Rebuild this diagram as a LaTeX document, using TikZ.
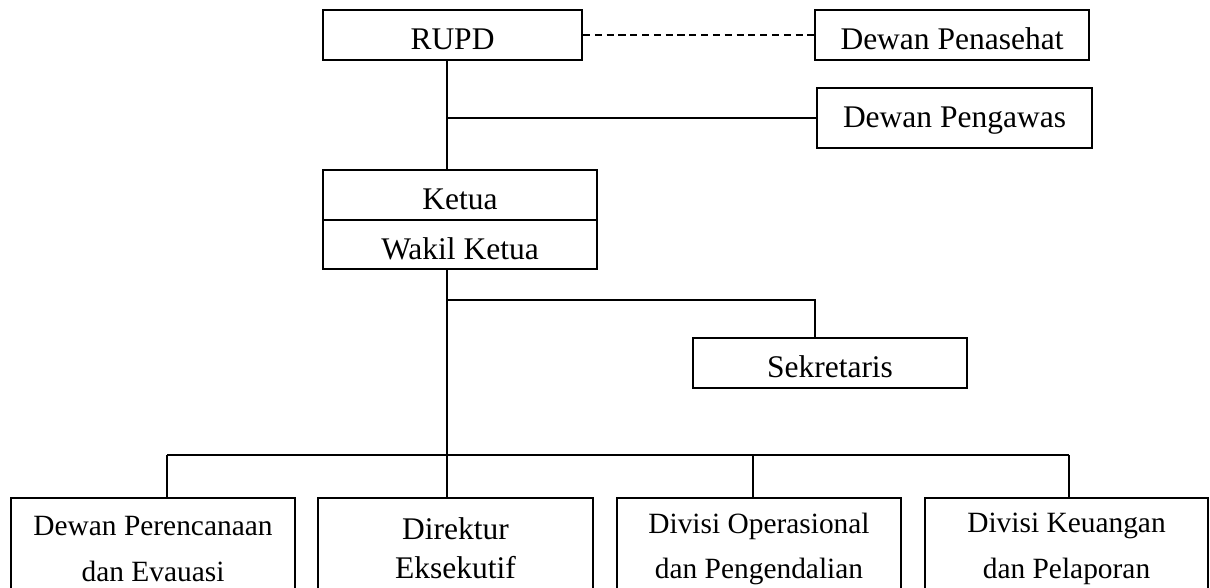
\documentclass[tikz,border=0pt]{standalone}
\usepackage{fontspec}
\setmainfont{Liberation Serif}
\usetikzlibrary{positioning}

\begin{document}
\begin{tikzpicture}[x=0.381pt, y=-0.381pt,
  box/.style={draw, line width=0.75pt, rectangle, inner sep=0pt, align=center, font=\fontsize{12}{18.3}\selectfont},
  onerow/.style={text height=11.4pt, text depth=0pt},
  lowrow/.style={font=\fontsize{11.2}{17.4}\selectfont},
  boxsize/.style 2 args={minimum width=#1*0.381pt, minimum height=#2*0.381pt},
  link/.style={line width=0.75pt}]
\clip (0,0) rectangle (1210,587);

% Top level
\node[box, onerow, boxsize={259}{50}] (rupd) at (452.5,35) {RUPD};
\node[box, onerow, boxsize={274}{50}] (penasehat) at (952,35) {Dewan Penasehat};
\node[box, text height=7.6pt, text depth=0pt, boxsize={275}{60}] (pengawas) at (954.5,118) {Dewan Pengawas};

% Ketua block
\node[box, onerow, boxsize={274}{50}] (ketua) at (460,195) {Ketua};
\node[box, onerow, boxsize={274}{49}] (wakil) at (460,244.5) {Wakil Ketua};
\node[box, onerow, boxsize={274}{50}] (sekretaris) at (830,363) {Sekretaris};

% Bottom row (cut off at the page edge)
\node[box, lowrow, boxsize={284}{102}] (perencanaan) at (153,549) {Dewan Perencanaan\\dan Evauasi};
\node[box, font=\fontsize{12}{15}\selectfont, boxsize={275}{100}] (direktur) at (455.5,548) {Direktur\\Eksekutif};
\node[box, lowrow, boxsize={284}{102}] (operasional) at (759,549) {Divisi Operasional\\dan Pengendalian};
\node[box, lowrow, boxsize={283}{102}] (keuangan) at (1066.5,549) {Divisi Keuangan\\dan Pelaporan};

% Junctions on the spine and the bus
\coordinate (hubA) at (447,118);
\coordinate (hubB) at (447,300);
\coordinate (hubC) at (447,455);
\coordinate (sekIn) at (815,338);
\coordinate (busL) at (167,455);
\coordinate (busM) at (753,455);
\coordinate (busR) at (1069,455);

% Connectors
\draw[link, dash pattern=on 2.7pt off 1.8pt] (rupd.east) -- (penasehat.west);
\draw[link] (rupd.south -| hubA) -- (ketua.north -| hubA);
\draw[link] (hubA) -- (pengawas.west);
\draw[link] (wakil.south -| hubB) -- (hubC |- direktur.north);
\draw[link] (hubB) -| (sekIn);
\draw[link] (busL) -- (busR);
\draw[link] (busL) -- (busL |- perencanaan.north);
\draw[link] (busM) -- (busM |- operasional.north);
\draw[link] (busR) -- (busR |- keuangan.north);

\end{tikzpicture}
\end{document}
